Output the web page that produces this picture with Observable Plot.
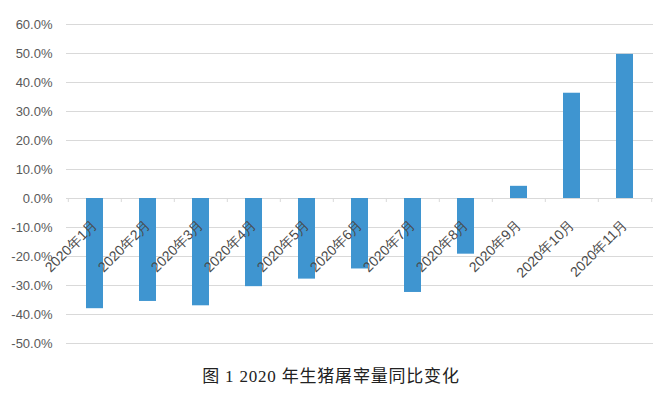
<!DOCTYPE html>
<html>
<head>
<meta charset="utf-8">
<script src="https://cdn.jsdelivr.net/npm/d3@7"></script>
<script src="https://cdn.jsdelivr.net/npm/@observablehq/plot@0.6"></script>
<style>
  body { margin: 0; background: #fff; }
  #title { width: 662px; text-align: center; font-family: "Liberation Serif", "Noto Sans CJK SC", serif; font-size: 17px; letter-spacing: 0.8px; color: #222; line-height: 30px; }
</style>
</head>
<body>
<div id="chart"></div>
<div id="title">图 1 2020 年生猪屠宰量同比变化</div>
<script>
const months = ["2020年1月","2020年2月","2020年3月","2020年4月","2020年5月","2020年6月","2020年7月","2020年8月","2020年9月","2020年10月","2020年11月"];
const yoy = [-38.0, -35.5, -37.0, -30.4, -27.8, -24.3, -32.4, -19.2, 4.2, 36.3, 49.7];
const yTicks = [-50, -40, -30, -20, -10, 0, 10, 20, 30, 40, 50, 60];

const data = months.map((m, i) => ({month: m, value: yoy[i]}));

const W = 662, H = 362, mL = 66, mR = 9, mT = 24, mB = 19;
const step = (W - mL - mR) / months.length;

const chart = Plot.plot({
  width: W,
  height: H,
  marginLeft: mL,
  marginRight: mR,
  marginTop: mT,
  marginBottom: mB,
  style: {fontFamily: "'Liberation Sans', Arial, sans-serif", fontSize: "13px", color: "#595959", background: "#fff"},
  x: {domain: months, paddingInner: 0.68, paddingOuter: 0.34, axis: null},
  y: {domain: [-50, 60], ticks: yTicks, tickFormat: d => d.toFixed(1) + "%", tickSize: 0, tickPadding: 14, label: null},
  marks: [
    Plot.ruleY(yTicks, {stroke: "#d9d9d9", strokeWidth: 1}),
    Plot.barY(data, {x: "month", y: "value", fill: "#3f95d0"}),
    Plot.ruleX(months, {x: d => d, y1: 0, y2: 0, insetBottom: -4, dx: -step / 2, stroke: "#d9d9d9"}),
    Plot.ruleX([months[months.length - 1]], {x: d => d, y1: 0, y2: 0, insetBottom: -4, dx: step / 2, stroke: "#d9d9d9"}),
    Plot.text(months, {x: d => d, y: 0, text: d => d, rotate: -45, textAnchor: "end", dx: 0, dy: 24, fill: "#4a4a4a", fontSize: 14})
  ]
});
document.getElementById("chart").append(chart);
</script>
</body>
</html>
